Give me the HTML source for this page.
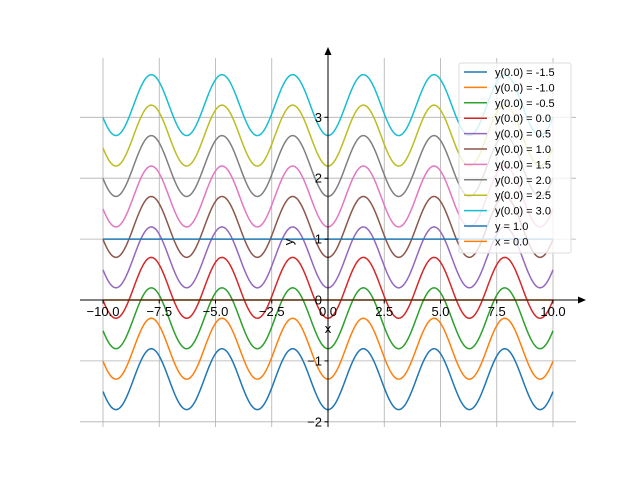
<!DOCTYPE html>
<html><head><meta charset="utf-8"><style>body{margin:0;background:#fff}svg{display:block}text{font-family:"Liberation Sans","DejaVu Sans",sans-serif}</style></head>
<body>
<svg id="chart" width="640" height="480" viewBox="0 0 640 480" xmlns="http://www.w3.org/2000/svg"></svg>
<script>
const initialValues = [-1.5,-1.0,-0.5,0.0,0.5,1.0,1.5,2.0,2.5,3.0];
const colors = ['#1f77b4','#ff7f0e','#2ca02c','#d62728','#9467bd','#8c564b','#e377c2','#7f7f7f','#bcbd22','#17becf'];
const xTicks = [-10,-7.5,-5,-2.5,0,2.5,5,7.5,10];
const xTickLabels = ['\u221210.0','\u22127.5','\u22125.0','\u22122.5','0.0','2.5','5.0','7.5','10.0'];
const yTicks = [-2,-1,0,1,2,3];
const yTickLabels = ['\u22122','\u22121','0','1','2','3'];
const hLineY = 1.0;
const vLineX = 0.0;
const legendLabels = ['y(0.0) = -1.5','y(0.0) = -1.0','y(0.0) = -0.5','y(0.0) = 0.0','y(0.0) = 0.5','y(0.0) = 1.0','y(0.0) = 1.5','y(0.0) = 2.0','y(0.0) = 2.5','y(0.0) = 3.0','y = 1.0','x = 0.0'];

const svg = document.getElementById('chart');
const NS = 'http://www.w3.org/2000/svg';
const sx = x => 328 + x*22.5;
const sy = y => 300 - y*60.9;
function mk(tag, attrs, parent){const e=document.createElementNS(NS,tag);for(const k in attrs)e.setAttribute(k,attrs[k]);(parent||svg).appendChild(e);return e;}
const grid = mk('g',{});


xTicks.forEach(t=>{mk('line',{x1:sx(t),x2:sx(t),y1:58,y2:427,stroke:'#b0b0b0','stroke-width':0.8},grid);});
yTicks.forEach(t=>{mk('line',{x1:80,x2:576,y1:sy(t),y2:sy(t),stroke:'#b0b0b0','stroke-width':0.8},grid);});

const series = mk('g',{});


initialValues.forEach((c,i)=>{
  let d='';
  for(let k=0;k<=400;k++){const x=-10+20*k/400;const y=c+0.2-0.5*Math.cos(2*x);d+=(k?'L':'M')+sx(x).toFixed(2)+','+sy(y).toFixed(2);}
  const p=mk('path',{d:d,fill:'none',stroke:colors[i],'stroke-width':1.5},series);
  
  
});
const hl=mk('line',{x1:sx(-10),x2:sx(10),y1:sy(hLineY),y2:sy(hLineY),stroke:'#1f77b4','stroke-width':1.5});


const vl=mk('line',{x1:sx(-10),x2:sx(10),y1:sy(vLineX),y2:sy(vLineX),stroke:'#ff7f0e','stroke-width':1.5});



const axes=mk('g',{});


mk('line',{x1:80,x2:581,y1:300,y2:300,stroke:'#000','stroke-width':1},axes);
mk('polygon',{points:'586,300 578,296.5 578,303.5',fill:'#000'},axes);
mk('line',{x1:328,x2:328,y1:53,y2:427,stroke:'#000','stroke-width':1},axes);
mk('polygon',{points:'328,47 324.5,55 331.5,55',fill:'#000'},axes);
xTicks.forEach((t,i)=>{mk('line',{x1:sx(t),x2:sx(t),y1:300,y2:303.5,stroke:'#000'},axes);
  const tx=mk('text',{x:sx(t),y:316,'font-size':13,'text-anchor':'middle'},axes);tx.textContent=xTickLabels[i];
  });
yTicks.forEach((t,i)=>{mk('line',{x1:324.5,x2:328,y1:sy(t),y2:sy(t),stroke:'#000'},axes);
  const tx=mk('text',{x:322,y:sy(t)+4.5,'font-size':13,'text-anchor':'end'},axes);tx.textContent=yTickLabels[i];
  });
const xl=mk('text',{x:328,y:333,'font-size':13,'text-anchor':'middle'});xl.textContent='x';

const yl=mk('text',{x:293,y:242,'font-size':13,'text-anchor':'middle',transform:'rotate(-90 293 242)'});yl.textContent='y';


const lg=mk('g',{});


mk('rect',{x:459,y:63,width:112,height:190,rx:2,fill:'rgba(255,255,255,0.8)',stroke:'#ddd'},lg);
const lcolors=colors.concat(['#1f77b4','#ff7f0e']);
legendLabels.forEach((l,i)=>{const y=72+i*15.4;
  const e=mk('g',{},lg);
  
  
  mk('line',{x1:464,x2:487,y1:y,y2:y,stroke:lcolors[i],'stroke-width':1.5},e);
  const t=mk('text',{x:495,y:y+4,'font-size':11},e);t.textContent=l;});
</script>
</body></html>
